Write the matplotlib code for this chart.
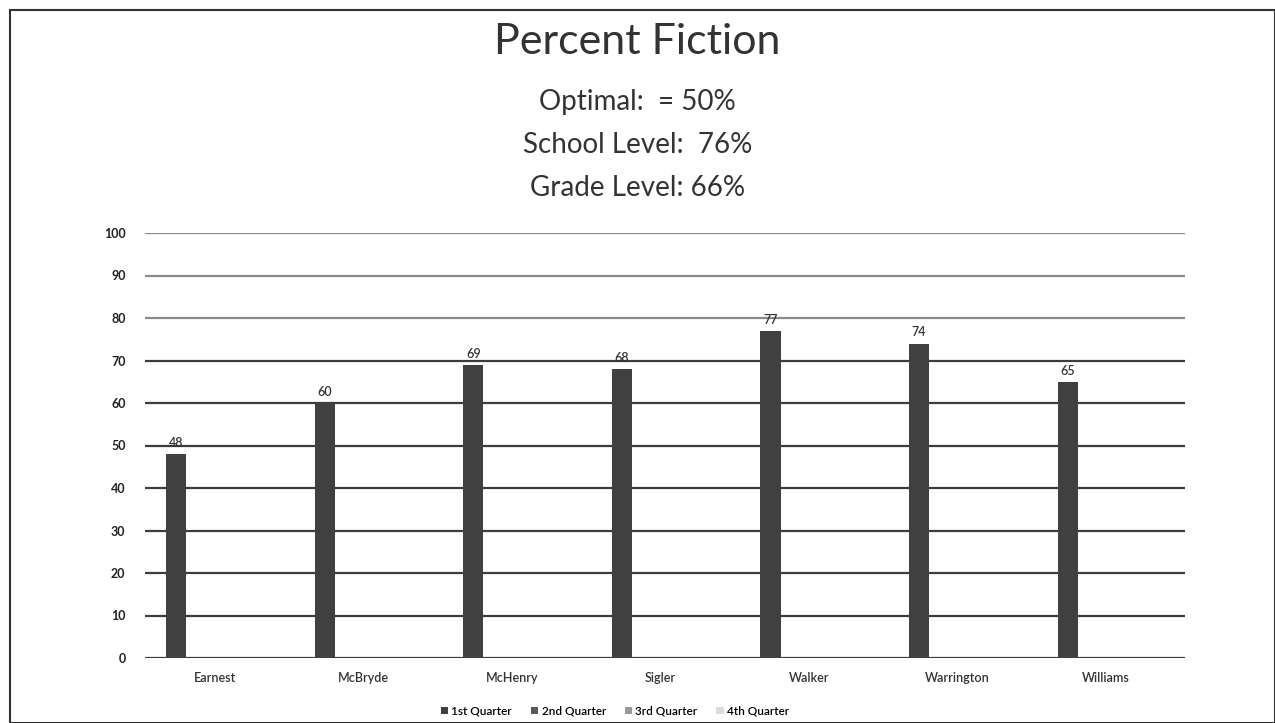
import numpy as np
import matplotlib.pyplot as plt
from matplotlib.patches import Rectangle

schools = ["Earnest", "McBryde", "McHenry", "Sigler", "Walker", "Warrington", "Williams"]
q1 = [48, 60, 69, 68, 77, 74, 65]
quarters = ["1st Quarter", "2nd Quarter", "3rd Quarter", "4th Quarter"]
colors = ["#404040", "#5a5a5a", "#9a9a9a", "#dcdcdc"]
subtitle = ["Optimal:  = 50%", "School Level:  76%", "Grade Level: 66%"]

plt.rcParams["font.family"] = ["Lato", "DejaVu Sans"]

fig = plt.figure(figsize=(12.75, 7.23), dpi=100)
ax = fig.add_axes([145 / 1275, 1 - 658 / 723, 1040 / 1275, 425 / 723])

x = np.arange(len(schools))
ax.bar(x - 0.29, q1, width=0.135, color=colors[0], zorder=3)
for xi, v in zip(x, q1):
    ax.text(xi - 0.29, v + 1.2, str(v), ha="center", va="bottom", fontsize=9,
            fontweight="semibold", color="#333333", zorder=4)

# empty series so legend shows all quarters
for q, c in zip(quarters, colors):
    ax.bar([0], [0], width=0, color=c, label=q)

for y in range(0, 101, 10):
    col = "#3c3c3c" if y <= 70 else "#8a8a8a"
    ax.axhline(y, color=col, lw=1.6, zorder=1)

ax.set_xlim(-0.5, len(schools) - 0.5)
ax.set_ylim(0, 100)
ax.set_yticks(range(0, 101, 10))
ax.set_xticks(x - 0.03)
ax.set_xticklabels(schools, fontsize=9, fontweight="semibold", color="#333333")
for lbl in ax.get_yticklabels():
    lbl.set_fontsize(9)
    lbl.set_fontweight("bold")
    lbl.set_color("#222222")
ax.tick_params(length=0, pad=14)
ax.tick_params(axis="x", pad=10)
for s in ax.spines.values():
    s.set_visible(False)

fig.text(0.5, 1 - 42 / 723, "Percent Fiction", ha="center", va="center", fontsize=31, color="#333333")
for i, line in enumerate(subtitle):
    fig.text(0.5, 1 - (102 + i * 43) / 723, line, ha="center", va="center", fontsize=20, color="#333333")

ax.legend(loc="center", bbox_to_anchor=(470 / 1040, -0.125), ncol=4, frameon=False,
          prop={"size": 8.5, "weight": "semibold"}, handlelength=0.6, handleheight=0.6,
          handletextpad=0.3, columnspacing=1.6)

fig.patches.append(Rectangle((10 / 1275, 0), 1 - 10 / 1275, 1 - 10 / 723, transform=fig.transFigure,
                             fill=False, edgecolor="#333333", lw=1.5))

plt.savefig("out.png")
